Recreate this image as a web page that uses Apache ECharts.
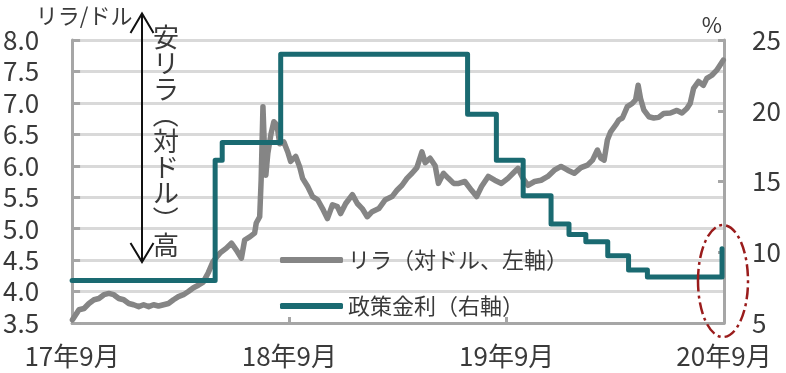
<!DOCTYPE html>
<html>
<head>
<meta charset="utf-8">
<script src="https://cdn.jsdelivr.net/npm/echarts@6/dist/echarts.min.js"></script>
<style>html,body{margin:0;padding:0;background:#fff;}#c{width:786px;height:373px;}</style>
</head>
<body>
<div id="c"></div>
<script>
// x positions are months since Sep 2017 (0 = 17年9月, 36 = 20年9月)
var xTickLabels = ['17年9月', '18年9月', '19年9月', '20年9月'];

var liraMonths = [0.02,0.38,0.66,0.93,1.21,1.48,1.76,2.03,2.30,2.58,2.85,3.13,3.40,3.68,3.95,4.23,4.50,4.77,5.05,5.32,5.60,5.87,6.15,6.42,6.70,6.97,7.24,7.52,7.79,8.16,8.52,8.80,9.07,9.35,9.53,9.81,10.08,10.17,10.36,10.44,10.54,10.62,10.70,10.81,10.98,11.14,11.31,11.47,11.69,11.91,12.07,12.35,12.57,12.73,13.01,13.28,13.56,13.83,14.10,14.38,14.65,14.83,15.11,15.48,15.75,16.02,16.30,16.57,16.94,17.30,17.67,17.94,18.22,18.49,18.77,19.04,19.32,19.50,19.77,20.05,20.23,20.51,20.78,21.07,21.35,21.69,22.06,22.34,22.61,22.98,23.34,23.71,24.07,24.35,24.62,24.90,25.17,25.54,25.90,26.27,26.63,27.00,27.37,27.73,28.10,28.46,28.74,29.01,29.20,29.38,29.56,29.74,30.02,30.20,30.39,30.66,30.93,31.12,31.26,31.39,31.57,31.85,32.12,32.39,32.67,33.04,33.40,33.68,33.95,34.13,34.32,34.59,34.86,35.05,35.33,35.60,35.78,35.96];
var liraValues = [3.55,3.71,3.73,3.81,3.87,3.89,3.95,3.97,3.95,3.89,3.87,3.81,3.79,3.76,3.79,3.76,3.79,3.77,3.79,3.81,3.87,3.92,3.95,4.00,4.06,4.10,4.15,4.30,4.48,4.61,4.69,4.77,4.66,4.53,4.82,4.87,4.93,5.09,5.19,5.77,6.94,6.30,5.85,6.20,6.50,6.70,6.65,6.35,6.38,6.22,6.07,6.15,5.98,5.80,5.67,5.51,5.46,5.32,5.16,5.38,5.35,5.24,5.40,5.54,5.40,5.32,5.19,5.27,5.32,5.46,5.51,5.61,5.69,5.80,5.88,5.97,6.22,6.05,6.12,6.00,5.72,5.88,5.80,5.72,5.72,5.75,5.61,5.51,5.67,5.83,5.77,5.72,5.80,5.88,5.96,5.80,5.69,5.75,5.77,5.83,5.93,5.99,5.93,5.88,5.97,6.01,6.09,6.25,6.12,6.09,6.41,6.54,6.65,6.73,6.76,6.94,6.99,7.05,7.28,7.07,6.89,6.78,6.76,6.77,6.83,6.84,6.88,6.84,6.91,6.99,7.23,7.34,7.28,7.39,7.44,7.52,7.60,7.68];

var rateMonths = [0,7.90,8.29,11.52,21.84,23.43,24.91,26.45,27.44,28.37,29.58,30.73,31.77,35.89];
var rateValues = [8,16.5,17.75,24,19.75,16.5,14,12,11.25,10.75,9.75,8.75,8.25,10.25];

var seriesNames = ['リラ（対ドル、左軸）', '政策金利（右軸）'];
var leftAxisName = 'リラ/ドル';
var rightAxisName = '%';
var arrowText = ['安','リ','ラ','（','対','ド','ル','）','高'];

function zip(a, b) { return a.map(function (v, i) { return [v, b[i]]; }); }

var FONT = '"Noto Sans CJK JP", "Noto Sans", sans-serif';
var TXT = '#3a3a3a';
var AXIS = '#a6a6a6';

var graphics = [
  {type: 'line', shape: {x1: 142, y1: 14, x2: 142, y2: 261}, style: {stroke: '#111', lineWidth: 2}, z: 10},
  {type: 'polyline', shape: {points: [[130.5, 33], [142, 13.5], [153.5, 33]]}, style: {stroke: '#111', lineWidth: 2, fill: null}, z: 10},
  {type: 'polyline', shape: {points: [[130.5, 243], [142, 262], [153.5, 243]]}, style: {stroke: '#111', lineWidth: 2, fill: null}, z: 10},
  {type: 'ellipse', shape: {cx: 723, cy: 281, rx: 25, ry: 56}, z: 10,
    style: {stroke: '#9a1c1c', lineWidth: 2.5, fill: null, lineDash: [12, 4, 3, 4]}}
];
arrowText.forEach(function (ch, i) {
  var isParen = (ch === '（' || ch === '）');
  graphics.push({
    type: 'text', x: 166, y: 37 + i * 26, z: 10,
    rotation: isParen ? -Math.PI / 2 : 0,
    style: {text: ch, font: '26px ' + FONT, align: 'center', verticalAlign: 'middle', fill: TXT}
  });
});

var chart = echarts.init(document.getElementById('c'), null, {renderer: 'canvas'});
chart.setOption({
  animation: false,
  backgroundColor: '#fff',
  textStyle: {fontFamily: FONT},
  grid: {left: 68, right: 62, top: 40, bottom: 50, containLabel: false},
  legend: {
    orient: 'vertical', left: 275, top: 243, itemGap: 22,
    itemWidth: 63, itemHeight: 6, icon: 'roundRect',
    textStyle: {fontSize: 22, color: TXT, fontFamily: FONT, lineHeight: 24},
    data: seriesNames
  },
  xAxis: {
    type: 'value', min: 0, max: 36, interval: 12,
    axisLine: {show: true, lineStyle: {color: AXIS, width: 3}},
    axisTick: {show: true, inside: true, length: 6, lineStyle: {color: AXIS, width: 3}},
    splitLine: {show: false},
    axisLabel: {
      fontSize: 26, color: TXT, margin: 20, fontFamily: FONT,
      formatter: function (v) { return xTickLabels[Math.round(v / 12)] || ''; }
    }
  },
  yAxis: [{
    type: 'value', min: 3.5, max: 8.0, interval: 0.5, position: 'left',
    name: leftAxisName, nameLocation: 'end', nameGap: 4,
    nameTextStyle: {fontSize: 22, color: TXT, fontFamily: FONT, padding: [0, 0, 0, 24]},
    axisLine: {show: true, lineStyle: {color: AXIS, width: 3}},
    axisTick: {show: true, inside: true, length: 8, lineStyle: {color: AXIS, width: 3}},
    splitLine: {show: true, lineStyle: {color: '#d9d9d9', width: 3}},
    axisLabel: {fontSize: 26, color: TXT, margin: 33, fontFamily: FONT,
      formatter: function (v) { return v.toFixed(1); }}
  }, {
    type: 'value', min: 5, max: 25, interval: 5, position: 'right',
    name: rightAxisName, nameLocation: 'end', nameGap: 4,
    nameTextStyle: {fontSize: 22, color: TXT, fontFamily: FONT, align: 'right', padding: [0, 2, 0, 0]},
    axisLine: {show: true, lineStyle: {color: AXIS, width: 3}},
    axisTick: {show: true, inside: true, length: 6, lineStyle: {color: AXIS, width: 3}},
    splitLine: {show: false},
    axisLabel: {fontSize: 26, color: TXT, margin: 28, fontFamily: FONT}
  }],
  series: [{
    name: seriesNames[0], type: 'line', yAxisIndex: 0, showSymbol: false, symbol: 'none',
    data: zip(liraMonths, liraValues), z: 2,
    itemStyle: {color: '#858585'},
    lineStyle: {color: '#858585', width: 5.5, join: 'round', cap: 'round'}
  }, {
    name: seriesNames[1], type: 'line', yAxisIndex: 1, showSymbol: false, symbol: 'none',
    step: 'end', data: zip(rateMonths, rateValues), z: 3,
    itemStyle: {color: '#1a6a71'},
    lineStyle: {color: '#1a6a71', width: 5, join: 'round', cap: 'round'}
  }],
  graphic: graphics
});
</script>
</body>
</html>
